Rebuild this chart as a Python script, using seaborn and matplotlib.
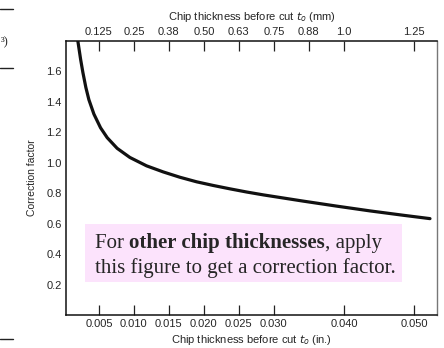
import pandas as pd
import seaborn as sns
import matplotlib
matplotlib.use("Agg")
import matplotlib.pyplot as plt
from matplotlib.lines import Line2D
from matplotlib.patches import Rectangle

# Curve: chip thickness (in.) vs correction factor
thickness_in = [0.0019, 0.00239, 0.00271, 0.00314, 0.00357, 0.00429, 0.00524,
                0.00619, 0.00761, 0.00943, 0.01181, 0.01419, 0.01657, 0.01896,
                0.02133, 0.0237, 0.0261, 0.0285, 0.0310, 0.0342, 0.0390,
                0.0437, 0.0485, 0.0523]
correction = [1.83, 1.68, 1.595, 1.495, 1.415, 1.32, 1.23,
              1.165, 1.095, 1.035, 0.98, 0.94, 0.905, 0.875,
              0.851, 0.829, 0.808, 0.789, 0.771, 0.748, 0.715,
              0.684, 0.655, 0.633]

# Bottom axis ticks (inches)
bottom_ticks = [0.005, 0.010, 0.015, 0.020, 0.025, 0.030, 0.040, 0.050]
bottom_labels = ["0.005", "0.010", "0.015", "0.020", "0.025", "0.030", "0.040", "0.050"]

# Top axis ticks (mm), placed at the matching inch positions
top_ticks = [0.005, 0.010, 0.015, 0.020, 0.025, 0.030, 0.035, 0.040, 0.050]
top_labels = ["0.125", "0.25", "0.38", "0.50", "0.63", "0.75", "0.88", "1.0", "1.25"]

y_ticks = [0.2, 0.4, 0.6, 0.8, 1.0, 1.2, 1.4, 1.6]
y_labels = ["0.2", "0.4", "0.6", "0.8", "1.0", "1.2", "1.4", "1.6"]

df = pd.DataFrame({"t": thickness_in, "cf": correction})

sns.set_style("white")
plt.rcParams["font.family"] = ["Liberation Sans", "DejaVu Sans"]

fig = plt.figure(figsize=(4.44, 3.48), dpi=100)
ax = fig.add_axes([0.1486, 0.095, 0.8356, 0.787])

sns.lineplot(data=df, x="t", y="cf", color="#111111", linewidth=2.3, ax=ax)

ax.set_xlim(0.0003, 0.0533)
ax.set_ylim(0, 1.8)
ax.set_xticks(bottom_ticks)
ax.set_xticklabels(bottom_labels, fontsize=8)
ax.set_yticks(y_ticks)
ax.set_yticklabels(y_labels, fontsize=8)
ax.tick_params(axis="both", direction="in", length=7, width=0.9, color="#222222", pad=3)
ax.set_xlabel("Chip thickness before cut $t_o$ (in.)", fontsize=8, labelpad=3)
ax.set_ylabel("Correction factor", fontsize=7.5, labelpad=7)

for side in ["left", "top", "bottom"]:
    ax.spines[side].set_color("#111111")
    ax.spines[side].set_linewidth(1.1)
ax.spines["right"].set_color("#777777")
ax.spines["right"].set_linewidth(1.0)

# Top axis in millimetres
ax2 = ax.twiny()
ax2.set_xlim(ax.get_xlim())
ax2.set_xticks(top_ticks)
ax2.set_xticklabels(top_labels, fontsize=8)
ax2.tick_params(axis="x", direction="in", length=7, width=0.9, color="#222222", pad=3)
ax2.set_xlabel("Chip thickness before cut $t_o$ (mm)", fontsize=8, labelpad=5)
for s in ax2.spines.values():
    s.set_visible(False)

# Pink note box
ax.add_patch(Rectangle((0.051, 0.120), 0.855, 0.212, transform=ax.transAxes,
                       facecolor="#fce3fc", edgecolor="none", zorder=3))
serif = ["Liberation Serif", "DejaVu Serif"]
t1 = ax.text(0.078, 0.2445, "For ", transform=ax.transAxes, fontsize=15,
             family=serif, va="baseline", zorder=4)
t2 = ax.annotate("other chip thicknesses", xy=(1, 0), xycoords=t1, fontsize=15,
                 family=serif, weight="bold", va="bottom", zorder=4)
ax.annotate(", apply", xy=(1, 0), xycoords=t2, fontsize=15,
            family=serif, va="bottom", zorder=4)
ax.text(0.078, 0.153, "this figure to get a correction factor.", transform=ax.transAxes,
        fontsize=15, family=serif, va="baseline", zorder=4)

# Fragments of the neighbouring table on the left edge
for yy in [1 - 9 / 348, 1 - 68 / 348, 1 - 339 / 348]:
    fig.add_artist(Line2D([0, 0.03], [yy, yy], transform=fig.transFigure,
                          color="#222222", linewidth=1.0))
fig.text(0.002, 1 - 42 / 348, "³)", fontsize=9, family=serif, va="center", ha="left")

fig.savefig("out.png", dpi=100)
